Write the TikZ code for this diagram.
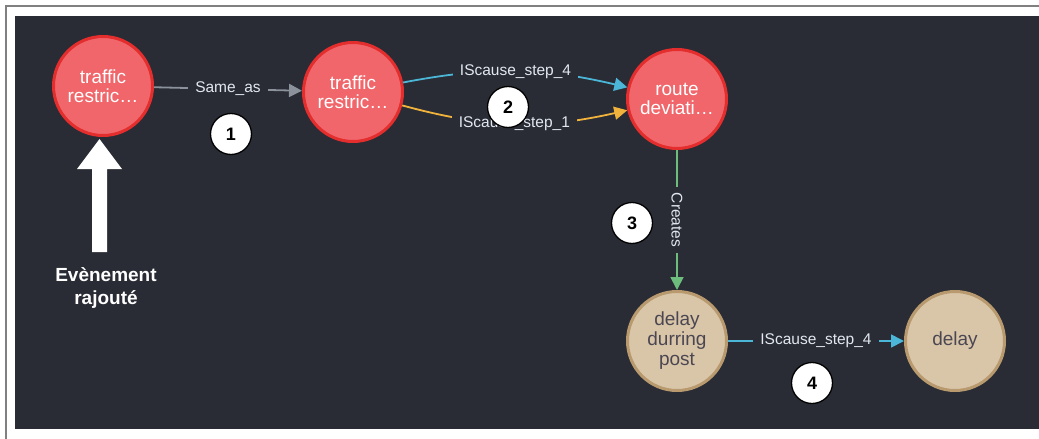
\documentclass[tikz,border=0pt]{standalone}
\usepackage{fontspec}
\setmainfont{Liberation Sans}
\usetikzlibrary{arrows.meta}
\definecolor{bg}{HTML}{292C34}
\definecolor{redfill}{HTML}{F0666A}
\definecolor{redline}{HTML}{E42D2D}
\definecolor{beigefill}{HTML}{D9C5A8}
\definecolor{beigeline}{HTML}{B89A6E}
\definecolor{beigetext}{HTML}{4B4752}
\definecolor{labelc}{HTML}{E2E8F0}
\definecolor{grayE}{HTML}{8B929C}
\definecolor{cyanE}{HTML}{4BB6D8}
\definecolor{yellowE}{HTML}{F2B33D}
\definecolor{greenE}{HTML}{6DBE7C}
\definecolor{frame}{HTML}{808080}
\tikzset{
  rednode/.style={circle, fill=redfill, draw=redline, line width=3pt, minimum size=99pt, inner sep=0pt,
    text=white, align=center, font=\fontsize{19}{19.5}\selectfont},
  beigenode/.style={circle, fill=beigefill, draw=beigeline, line width=3pt, minimum size=99pt, inner sep=0pt,
    text=beigetext, align=center, font=\fontsize{19}{20}\selectfont},
  lbl/.style={fill=bg, text=labelc, font=\fontsize{15.5}{17}\selectfont, inner xsep=7pt, inner ysep=1pt},
  arr/.style={line width=1.8pt, -{Triangle[length=13pt,width=13pt]}},
  badge/.style={circle, fill=white, draw=black, line width=1.3pt, minimum size=41pt, inner sep=0pt,
    font=\fontsize{18}{18}\selectfont\bfseries},
}
\begin{document}
\begin{tikzpicture}[x=1pt,y=-1pt]
\useasboundingbox (0,0) rectangle (1039,439);
\fill[white] (0,0) rectangle (1039,439);
\fill[bg] (15,16) rectangle (1039,429);
\draw[frame, line width=2pt] (5,6) -- (1039,6);
\draw[frame, line width=2pt] (6,6) -- (6,439);

\node[rednode] (n1) at (103,86) {traffic\\restric…};
\node[rednode] (n2) at (353,92) {traffic\\restric…};
\node[rednode] (n3) at (677,99) {route\\deviati…};
\node[beigenode] (n4) at (677,341) {delay\\durring\\post};
\node[beigenode] (n5) at (955,341) {delay};

\draw[arr, grayE] (n1) -- node[lbl] {Same\_as} (n2);
\draw[arr, cyanE] (n2) to[bend left=12] node[lbl] {IScause\_step\_4} (n3);
\draw[arr, yellowE] (n2) to[bend right=14] node[lbl] {IScause\_step\_1} (n3);
\draw[arr, greenE] (n3) -- node[lbl, rotate=-90, inner xsep=6pt] {Creates} (n4);
\draw[arr, cyanE] (n4) -- node[lbl] {IScause\_step\_4} (n5);

\node[badge] (b1) at (231,134) {1};
\node[badge] (b2) at (508,107) {2};
\node[badge] (b3) at (632,223) {3};
\node[badge] (b4) at (812,383) {4};

\fill[white] (92,252) -- (92,169) -- (77,169) -- (99.5,139) -- (122,169) -- (107,169) -- (107,252) -- cycle;
\node[text=white, align=center, font=\fontsize{19}{23}\selectfont\bfseries] (lab) at (106,288) {Evènement\\rajouté};
\end{tikzpicture}
\end{document}
